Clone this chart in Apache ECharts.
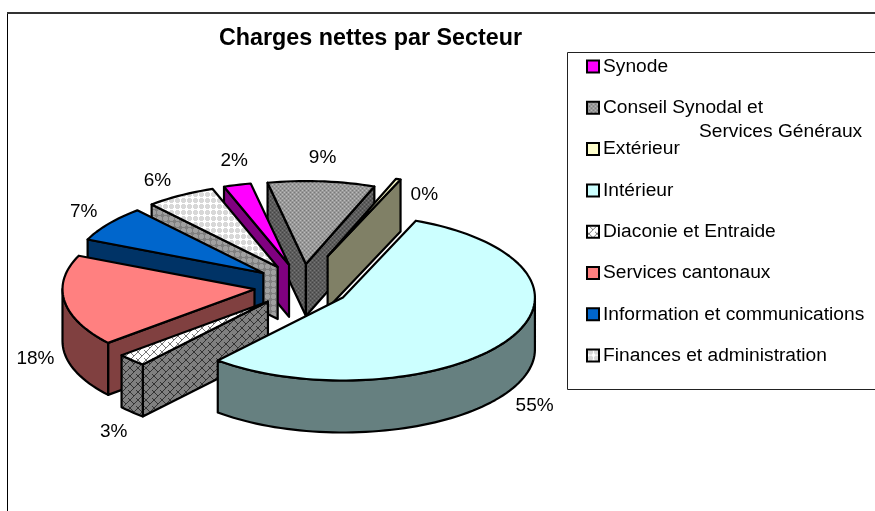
<!DOCTYPE html>
<html>
<head>
<meta charset="utf-8">
<title>Charges nettes par Secteur</title>
<script src="https://cdn.jsdelivr.net/npm/echarts@6/dist/echarts.min.js"></script>
<style>
  html, body { margin: 0; padding: 0; background: #fff; }
  #chart { width: 875px; height: 511px; }
</style>
</head>
<body>
<div id="chart"></div>
<script>
const categories = [
  'Synode',
  'Conseil Synodal et Services Généraux',
  'Extérieur',
  'Intérieur',
  'Diaconie et Entraide',
  'Services cantonaux',
  'Information et communications',
  'Finances et administration'
]
const values = [2.3, 9.0, 0.4, 55.1, 2.5, 17.8, 7.0, 5.9]

const FONT = '"Liberation Sans", Arial, sans-serif'

// 3D pie geometry
const CX = 302
const CY = 286
const RX = 192
const RY = 83
const DEPTH = 52
const EXPLODE_X = 48
const EXPLODE_Y = 22
const START_ANGLE = 340.2

// Extérieur sits further out than the others
const explodeScale = [1, 1, 1.45, 1, 1, 1, 1, 1]
// back to front
const drawOrder = [1, 2, 0, 7, 6, 5, 4, 3]
// from the middle of the rim to the centre of the label
const labelOffsets = [[-3, -24], [1, -24], [26, 16], [28, 65], [-18, 72], [-29, 58], [-25, -12], [-23, -15]]

function makePattern(size, background, paint) {
  const canvas = document.createElement('canvas')
  canvas.width = size
  canvas.height = size
  const ctx = canvas.getContext('2d')
  ctx.fillStyle = background
  ctx.fillRect(0, 0, size, size)
  paint(ctx)
  return { image: canvas, repeat: 'repeat' }
}

function dither(background, light, dark) {
  return makePattern(4, background, (ctx) => {
    ctx.fillStyle = light
    ctx.fillRect(0, 0, 1, 1)
    ctx.fillRect(2, 2, 1, 1)
    ctx.fillStyle = dark
    ctx.fillRect(2, 0, 1, 1)
    ctx.fillRect(0, 2, 1, 1)
  })
}

function plusDots(background, dot) {
  return makePattern(6, background, (ctx) => {
    ctx.fillStyle = dot
    ctx.fillRect(2, 0, 3, 5)
    ctx.fillRect(1, 1, 5, 3)
  })
}

function scales(background, line) {
  return makePattern(8, background, (ctx) => {
    ctx.strokeStyle = line
    ctx.lineWidth = 1
    ctx.beginPath()
    ctx.moveTo(0, 2); ctx.lineTo(2, 0); ctx.lineTo(4, 2); ctx.lineTo(6, 4); ctx.lineTo(8, 2)
    ctx.moveTo(2, 8); ctx.lineTo(4, 6); ctx.lineTo(6, 4)
    ctx.moveTo(0, 6); ctx.lineTo(2, 8)
    ctx.stroke()
  })
}

const topFills = [
  '#ff00ff',
  dither('#999999', '#bcbcbc', '#787878'),
  '#ffffcc',
  '#ccffff',
  scales('#ffffff', '#777777'),
  '#ff8080',
  '#0066cc',
  plusDots('#ffffff', '#d8d8d8')
]
const sideFills = [
  '#800080',
  dither('#5c5c5c', '#777777', '#444444'),
  '#808066',
  '#668080',
  scales('#808080', '#333333'),
  '#804040',
  '#003366',
  plusDots('#808080', '#a0a0a0')
]

// each slice spans [from, to] in degrees clockwise from the top of the ellipse
const total = values.reduce((sum, value) => sum + value, 0)
let cursor = START_ANGLE
const slices = values.map((value, index) => {
  const from = cursor
  cursor += (value / total) * 360
  const mid = ((from + cursor) / 2) * Math.PI / 180
  return {
    from,
    to: cursor,
    cx: CX + explodeScale[index] * EXPLODE_X * Math.sin(mid),
    cy: CY - explodeScale[index] * EXPLODE_Y * Math.cos(mid)
  }
})

function rimPoint(slice, degrees, drop) {
  const rad = degrees * Math.PI / 180
  return [slice.cx + RX * Math.sin(rad), slice.cy - RY * Math.cos(rad) + (drop || 0)]
}

function arcPoints(slice, from, to, drop) {
  const steps = Math.max(2, Math.ceil((to - from) / 2))
  const points = []
  for (let i = 0; i <= steps; i++) {
    points.push(rimPoint(slice, from + ((to - from) * i) / steps, drop))
  }
  return points
}

function facet(points, fill) {
  return {
    type: 'polygon',
    shape: { points },
    style: { fill, stroke: '#000', lineWidth: 2.2, lineJoin: 'round' }
  }
}

function renderSlice(index) {
  const slice = slices[index]
  const apex = [slice.cx, slice.cy]
  const apexLow = [slice.cx, slice.cy + DEPTH]
  const children = []

  // radial walls that face the viewer
  if (Math.sin(slice.from * Math.PI / 180) < 0) {
    children.push(facet([apex, rimPoint(slice, slice.from), rimPoint(slice, slice.from, DEPTH), apexLow], sideFills[index]))
  }
  if (Math.sin(slice.to * Math.PI / 180) > 0) {
    children.push(facet([apex, rimPoint(slice, slice.to), rimPoint(slice, slice.to, DEPTH), apexLow], sideFills[index]))
  }

  // outer wall, only on the front half of the ellipse
  const rimFrom = Math.max(slice.from, 450)
  const rimTo = Math.min(slice.to, 630)
  if (rimTo > rimFrom) {
    children.push(facet(
      arcPoints(slice, rimFrom, rimTo, 0).concat(arcPoints(slice, rimFrom, rimTo, DEPTH).reverse()),
      sideFills[index]
    ))
  }

  children.push(facet([apex].concat(arcPoints(slice, slice.from, slice.to, 0)), topFills[index]))

  const rimMid = rimPoint(slice, (slice.from + slice.to) / 2)
  children.push({
    type: 'text',
    z2: 100,
    style: {
      text: Math.round(values[index]) + '%',
      x: rimMid[0] + labelOffsets[index][0],
      y: rimMid[1] + labelOffsets[index][1],
      fill: '#000',
      fontSize: 19,
      fontFamily: FONT,
      align: 'center',
      verticalAlign: 'middle'
    }
  })
  return { type: 'group', children }
}

const chart = echarts.init(document.getElementById('chart'), null, { renderer: 'canvas' })

chart.setOption({
  animation: false,
  backgroundColor: '#fff',
  title: {
    text: 'Charges nettes par Secteur',
    left: 219,
    top: 27,
    padding: 0,
    textStyle: { fontFamily: FONT, fontSize: 23.3, fontWeight: 'bold', color: '#000' }
  },
  legend: {
    orient: 'vertical',
    left: 586,
    top: 57,
    padding: 0,
    itemWidth: 12,
    itemHeight: 12,
    itemGap: 22.3,
    itemStyle: { borderWidth: 2 },
    icon: 'rect',
    selectedMode: false,
    textStyle: { fontFamily: FONT, fontSize: 19.2, color: '#000', padding: [0, 0, 0, -1] },
    formatter: (name) => name.replace(' Services Généraux', ''),
    data: categories.map((name, index) => ({
      name,
      itemStyle: { color: topFills[index], borderColor: '#000', borderWidth: 2 }
    }))
  },
  graphic: [
    {
      type: 'line',
      silent: true,
      shape: { x1: 7.5, y1: 12, x2: 7.5, y2: 511 },
      style: { stroke: '#000', lineWidth: 1 }
    },
    {
      type: 'line',
      silent: true,
      shape: { x1: 7, y1: 13, x2: 875, y2: 13 },
      style: { stroke: '#333', lineWidth: 2 }
    },
    {
      type: 'polyline',
      silent: true,
      shape: { points: [[875, 52.5], [567.5, 52.5], [567.5, 389.5], [875, 389.5]] },
      style: { fill: null, stroke: '#222', lineWidth: 1 }
    },
    {
      type: 'text',
      silent: true,
      style: {
        text: 'Services Généraux',
        x: 699,
        y: 132,
        fill: '#000',
        fontSize: 19.2,
        fontFamily: FONT,
        verticalAlign: 'middle'
      }
    }
  ],
  series: drawOrder.map((index, order) => ({
    type: 'custom',
    name: categories[index],
    coordinateSystem: 'none',
    z: 2 + order,
    silent: true,
    itemStyle: { color: '#ccc', borderColor: '#000', borderWidth: 2 },
    data: [[values[index]]],
    renderItem: () => renderSlice(index)
  }))
})
</script>
</body>
</html>
